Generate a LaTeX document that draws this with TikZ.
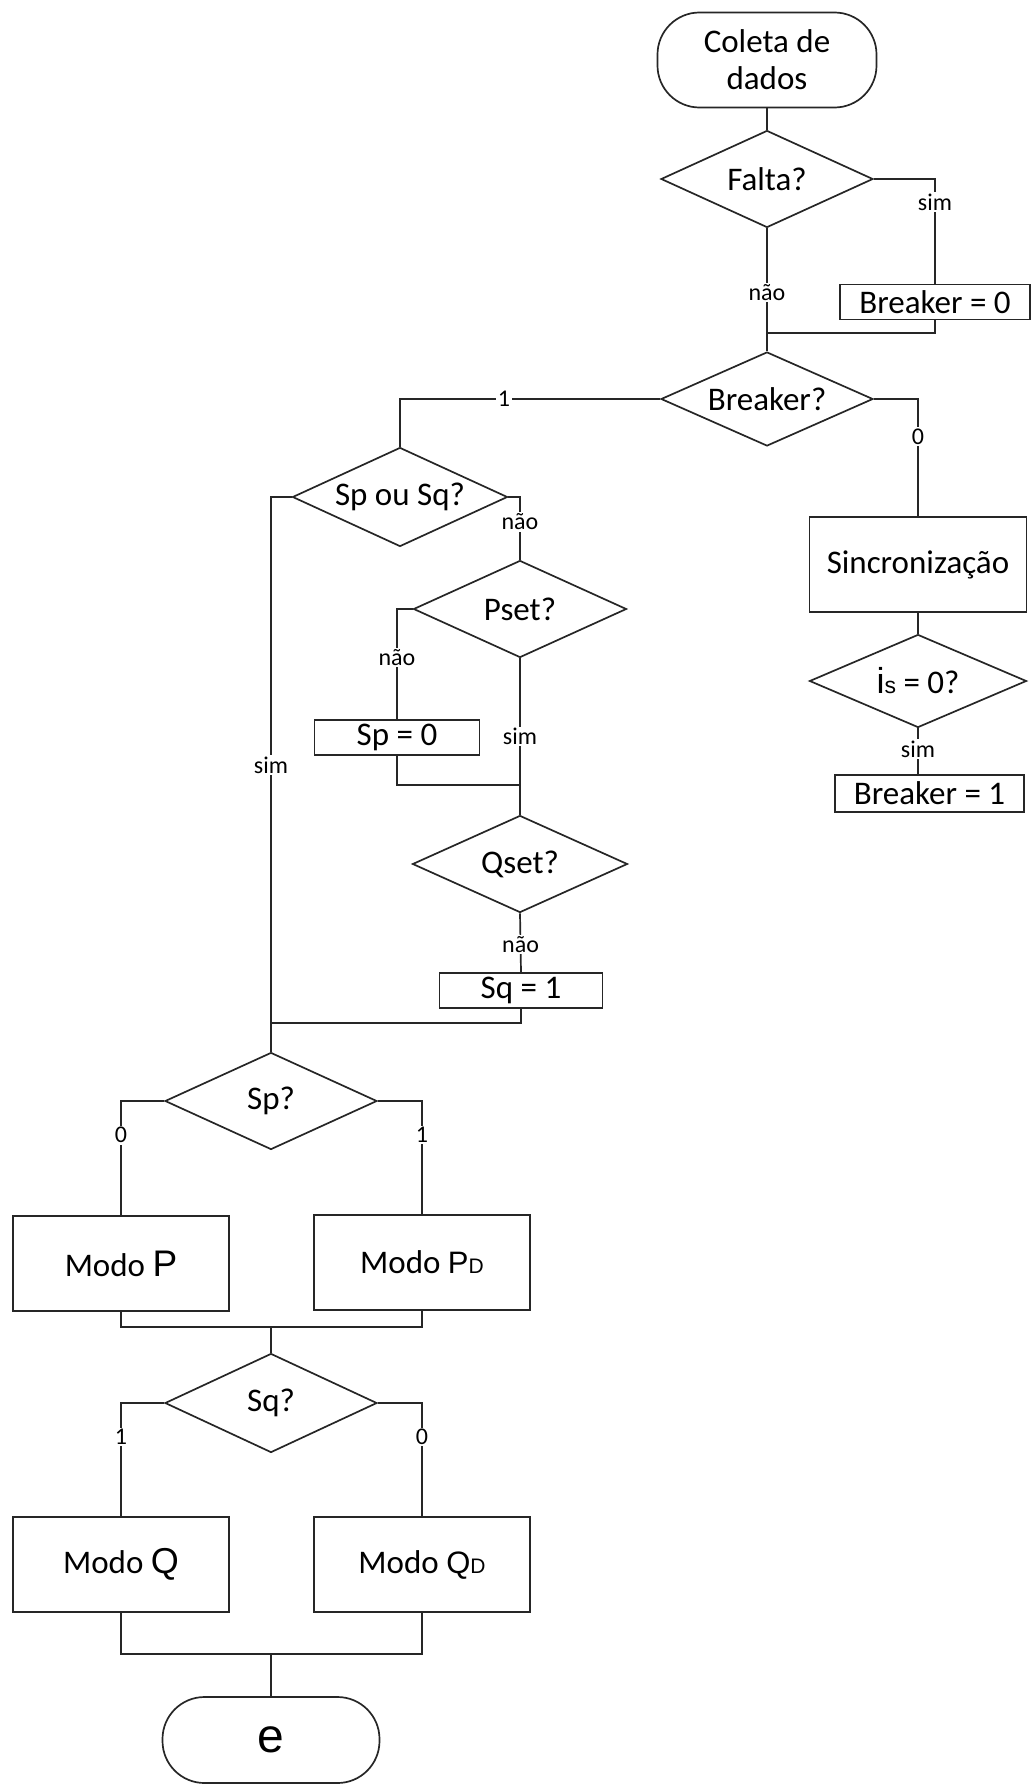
\documentclass[tikz,border=0pt]{standalone}
\usepackage{fontspec}
\setmainfont{Carlito}
\newfontfamily\arialf{Liberation Sans}
\usetikzlibrary{shapes.geometric}
\tikzset{
  ln/.style={line width=1.7pt, draw=black!85},
  dia/.style={ln, diamond, inner sep=0pt, aspect=2.2, minimum width=#1, minimum height=97pt, font=\fontsize{33}{36}\selectfont},
  dia/.default=212pt,
  boxa/.style={ln, rectangle, inner sep=0pt, minimum width=216pt, minimum height=95pt, font=\fontsize{33}{36}\selectfont},
  boxs/.style={ln, rectangle, inner sep=0pt, minimum height=35pt, font=\fontsize{33}{34}\selectfont},
  term/.style={ln, rectangle, rounded corners=42pt, inner sep=0pt, font=\fontsize{33}{37}\selectfont, align=center},
  lbl/.style={fill=white, inner sep=1.5pt, font=\fontsize{24}{25}\selectfont},
  wire/.style={ln}
}
\begin{document}
\begin{tikzpicture}[x=1pt,y=-1pt]
\useasboundingbox (0,0) rectangle (1031,1785);
% nodes
\node[term, minimum width=219pt, minimum height=95pt] (start) at (767,60) {Coleta de\\dados};
\node[dia] (falta) at (767,179) {Falta?};
\node[boxs, minimum width=190pt] (b0) at (935,302) {Breaker = 0};
\coordinate (m1) at (767,333);
\node[dia, minimum height=94pt] (breaker) at (767,399) {Breaker?};
\node[boxa, minimum width=217pt] (sinc) at (918,564.5) {Sincronização};
\node[dia=217pt, minimum height=93pt] (is) at (918,681) {{\arialf\fontsize{36}{38}\selectfont i}{\arialf\fontsize{23}{24}\selectfont s} = 0?};
\node[boxs, minimum width=189pt, minimum height=37pt] (b1) at (929.5,793.5) {Breaker = 1};
\node[dia=215pt, minimum height=99pt] (spsq) at (400,497) {Sp ou Sq?};
\node[dia=213pt] (pset) at (520,609) {Pset?};
\node[boxs, minimum width=165pt] (sp0) at (397,737.5) {Sp = 0};
\coordinate (m2) at (520,785);
\node[dia=215pt] (qset) at (520,864) {Qset?};
\node[boxs, minimum width=163pt] (sq1) at (521,990.5) {Sq = 1};
\coordinate (m3) at (271,1023);
\node[dia] (sp) at (271,1101) {Sp?};
\node[boxa] (modop) at (121,1263.5) {Modo {\arialf\fontsize{37}{38}\selectfont P}};
\node[boxa] (modopd) at (422,1262.5) {Modo {\arialf\fontsize{31}{32}\selectfont P\fontsize{21}{22}\selectfont D}};
\coordinate (m4) at (271,1327);
\node[dia, minimum height=99pt] (sq) at (271,1403) {Sq?};
\node[boxa] (modoq) at (121,1564.5) {Modo {\arialf\fontsize{36}{38}\selectfont Q}};
\node[boxa] (modoqd) at (422,1564.5) {Modo {\arialf\fontsize{31}{32}\selectfont Q\fontsize{21}{22}\selectfont D}};
\coordinate (m5) at (271,1654);
\node[term, minimum width=217pt, minimum height=86pt, font=\arialf\fontsize{48}{50}\selectfont] (end) at (271,1740) {e};
% connectors
\draw[wire] (start.south) -- (falta.north);
\draw[wire] (falta.east) -| node[lbl, pos=0.61] {sim} (b0.north);
\draw[wire] (falta.south) -- node[lbl, pos=0.52] {não} (breaker.north);
\draw[wire] (b0.south) |- (m1);
\draw[wire] (breaker.west) -| node[lbl, pos=0.3] {1} (spsq.north);
\draw[wire] (breaker.east) -| node[lbl, pos=0.66] {0} (sinc.north);
\draw[wire] (sinc.south) -- (is.north);
\draw[wire] (is.south) -- node[lbl, pos=0.45] {sim} (is.south |- b1.north);
\draw[wire] (spsq.east) -| node[lbl, pos=0.7] {não} (pset.north);
\draw[wire] (spsq.west) -| node[lbl, pos=0.755] {sim} (m3);
\draw[wire] (pset.west) -| node[lbl, pos=0.72] {não} (sp0.north);
\draw[wire] (pset.south) -- node[lbl, pos=0.5] {sim} (qset.north);
\draw[wire] (sp0.south) |- (m2);
\draw[wire] (qset.south) -- node[lbl, pos=0.53] {não} (sq1.north);
\draw[wire] (sq1.south) |- (m3);
\draw[wire] (m3) -- (sp.north);
\draw[wire] (sp.west) -| node[lbl, pos=0.65] {0} (modop.north);
\draw[wire] (sp.east) -| node[lbl, pos=0.65] {1} (modopd.north);
\draw[wire] (modop.south) |- (m4);
\draw[wire] (modopd.south) |- (m4);
\draw[wire] (m4) -- (sq.north);
\draw[wire] (sq.west) -| node[lbl, pos=0.65] {1} (modoq.north);
\draw[wire] (sq.east) -| node[lbl, pos=0.65] {0} (modoqd.north);
\draw[wire] (modoq.south) |- (m5);
\draw[wire] (modoqd.south) |- (m5);
\draw[wire] (m5) -- (end.north);
\end{tikzpicture}
\end{document}
